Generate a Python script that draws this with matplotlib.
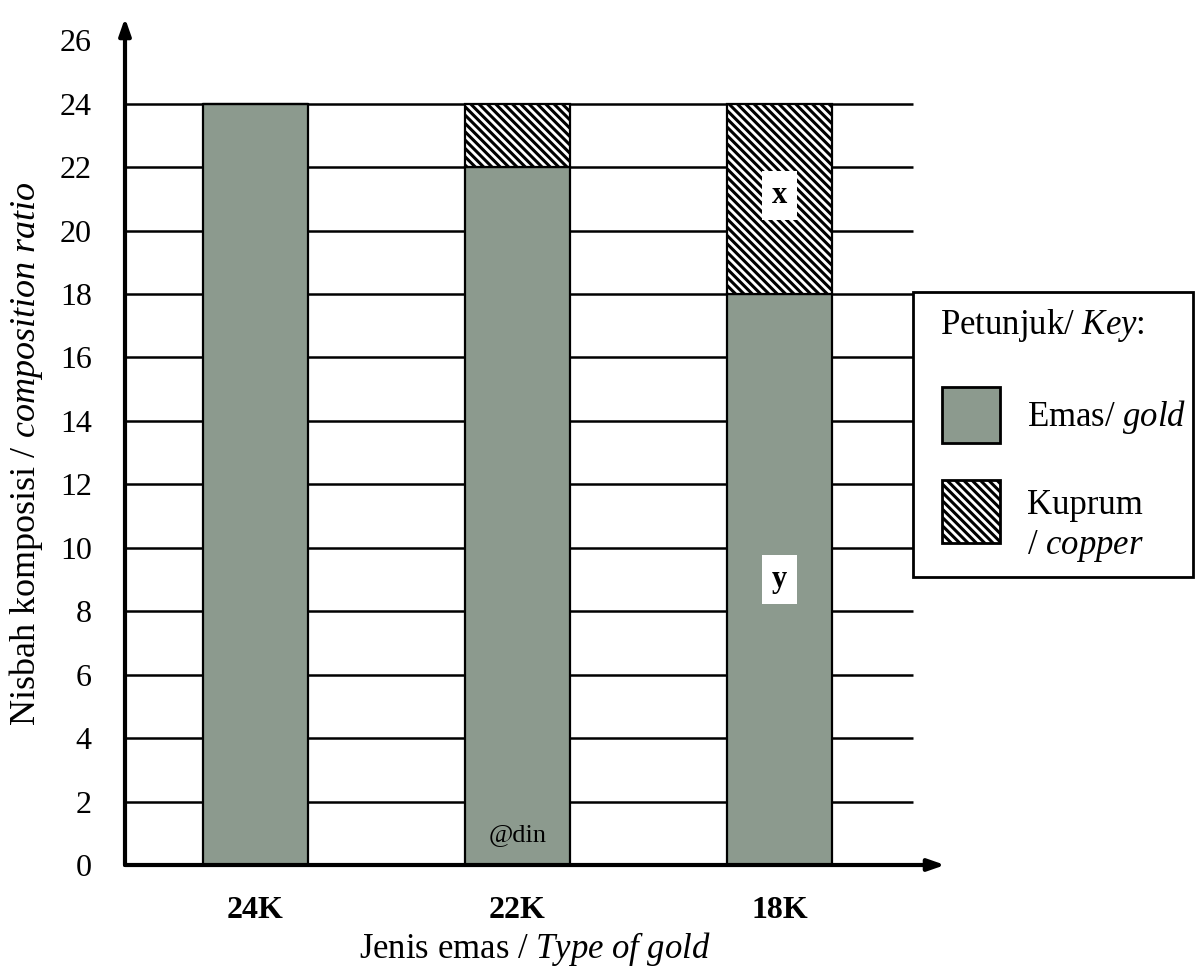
import matplotlib
matplotlib.use('Agg')
import matplotlib.pyplot as plt
from matplotlib.patches import Rectangle
import numpy as np

plt.rcParams['font.family'] = 'Liberation Serif'
plt.rcParams['mathtext.fontset'] = 'custom'
plt.rcParams['mathtext.rm'] = 'Liberation Serif'
plt.rcParams['mathtext.it'] = 'Liberation Serif:italic'
plt.rcParams['hatch.linewidth'] = 2.2

# data
jenis = ['24K', '22K', '18K']
emas = [24, 22, 18]
kuprum = [0, 2, 6]
y_ticks = list(range(0, 28, 2))

gold_col = '#8c9a8e'
corak = '\\\\\\\\'

fig = plt.figure(figsize=(11.95, 9.67), dpi=100)
ax = fig.add_axes([125 / 1195, 102 / 967, 820 / 1195, 847 / 967])

x = np.arange(len(jenis))
lebar = 0.4
x_min, x_max = -0.496, 2.63
ax.set_xlim(x_min, x_max)
ax.set_ylim(0, 26.7)

# garis grid
ax.hlines(y_ticks[1:-1], x_min, 2.508, color='black', lw=1.8, zorder=1)

ax.bar(x, emas, lebar, color=gold_col, edgecolor='black', lw=1.6, zorder=2)
ax.bar(x, kuprum, lebar, bottom=emas, color='white', edgecolor='black',
       hatch=corak, lw=1.6, zorder=2)

# paksi dengan anak panah
ax.annotate('', xy=(x_max, 0), xytext=(x_min, 0), annotation_clip=False,
            arrowprops=dict(arrowstyle='-|>,head_length=1.0,head_width=0.35',
                            color='black', lw=3, shrinkA=0, shrinkB=0), zorder=5)
ax.annotate('', xy=(x_min, 26.7), xytext=(x_min, 0), annotation_clip=False,
            arrowprops=dict(arrowstyle='-|>,head_length=1.0,head_width=0.35',
                            color='black', lw=3, shrinkA=0, shrinkB=0), zorder=5)

for s in ax.spines.values():
    s.set_visible(False)
ax.set_xticks(x)
ax.set_xticklabels(jenis, fontsize=23, fontweight='bold')
ax.set_yticks(y_ticks)
ax.set_yticklabels([str(v) for v in y_ticks], fontsize=23)
ax.tick_params(axis='both', length=0)
ax.tick_params(axis='x', pad=22)
ax.tick_params(axis='y', pad=24)

ax.set_xlabel(r'Jenis emas / $\mathit{Type\ of\ gold}$', fontsize=25, labelpad=4)
ax.set_ylabel(r'Nisbah komposisi / $\mathit{composition\ ratio}$', fontsize=26)
ax.yaxis.set_label_coords(-0.097, 0.486)

# label x dan y
ax.text(2, 21.1, 'x', fontsize=22, fontweight='bold', ha='center', va='center',
        bbox=dict(facecolor='white', edgecolor='none', pad=7), zorder=4)
ax.text(2, 9.0, 'y', fontsize=22, fontweight='bold', ha='center', va='center',
        bbox=dict(facecolor='white', edgecolor='none', pad=7), zorder=4)
ax.text(1, 0.95, '@din', fontsize=19, ha='center', va='center', zorder=4)

# petunjuk
W, H = 1195, 967
fig.patches.append(Rectangle((913 / W, 1 - 577 / H), 280 / W, 285 / H,
                             transform=fig.transFigure, facecolor='white',
                             edgecolor='black', lw=2, zorder=6))
fig.text(940 / W, 1 - 326 / H, r'Petunjuk/ $\mathit{Key}$:', fontsize=25,
         va='center', ha='left', zorder=7)
fig.patches.append(Rectangle((942 / W, 1 - 443 / H), 58 / W, 56 / H,
                             transform=fig.transFigure, facecolor=gold_col,
                             edgecolor='black', lw=2, zorder=7))
fig.patches.append(Rectangle((942 / W, 1 - 543 / H), 58 / W, 63 / H,
                             transform=fig.transFigure, facecolor='white',
                             edgecolor='black', hatch=corak, lw=2, zorder=7))
fig.text(1027 / W, 1 - 417 / H, r'Emas/ $\mathit{gold}$', fontsize=25,
         va='center', ha='left', zorder=7)
fig.text(1027 / W, 1 - 505 / H, 'Kuprum', fontsize=25, va='center', ha='left', zorder=7)
fig.text(1027 / W, 1 - 546 / H, r'/ $\mathit{copper}$', fontsize=25,
         va='center', ha='left', zorder=7)

fig.savefig('out.png', dpi=100)
